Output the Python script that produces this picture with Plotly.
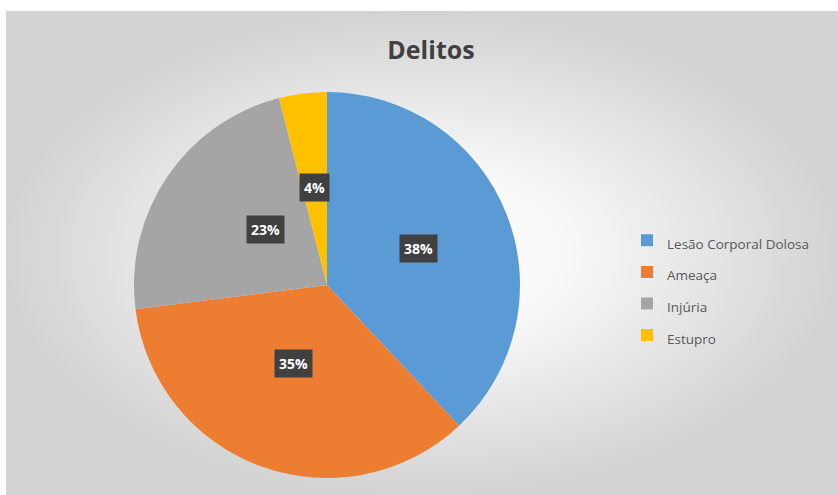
import math
import plotly.graph_objects as go

# ---- data ----
categories = ["Lesão Corporal Dolosa", "Ameaça", "Injúria", "Estupro"]
values = [38, 35, 23, 4]
colors = ["#5B9BD5", "#ED7D31", "#A5A5A5", "#FFC000"]
title_text = "Delitos"

W, H = 838, 495
# pie geometry (pixels)
cx, cy, R = 327, 285, 193
dom_x = [(cx - R) / W, (cx + R) / W]
dom_y = [(H - cy - R) / H, (H - cy + R) / H]

legend_labels = ["<span style='font-size:13.5px'>%s</span>" % c for c in categories]

fig = go.Figure()

# background radial gradient for chart area
fig.add_trace(go.Scatter(
    x=[0, 1, 1, 0, 0], y=[0, 0, 1, 1, 0],
    mode="lines", fill="toself", line=dict(width=0),
    fillgradient=dict(type="radial",
                      colorscale=[[0, "#ffffff"], [0.35, "#f8f8f8"], [1, "#d3d3d3"]]),
    hoverinfo="skip", showlegend=False,
))

fig.add_trace(go.Pie(
    labels=legend_labels,
    values=values,
    sort=False,
    direction="clockwise",
    rotation=0,
    marker=dict(colors=colors, line=dict(width=0)),
    textinfo="none",
    domain=dict(x=dom_x, y=dom_y),
    hovertemplate="%{label}: %{percent}<extra></extra>",
))

# percentage labels in dark boxes, placed along each slice's mid angle
total = sum(values)
annotations = []
cum = 0
for v in values:
    mid = (cum + v / 2) / total * 2 * math.pi
    cum += v
    px = cx + 0.51 * R * math.sin(mid)
    py = cy - 0.51 * R * math.cos(mid)
    annotations.append(dict(
        x=px / W, y=(H - py) / H, xref="paper", yref="paper",
        text="<b>%d%%</b>" % round(v / total * 100),
        showarrow=False,
        font=dict(family="Open Sans", size=14, color="#ffffff"),
        bgcolor="#404040", borderpad=4,
    ))

fig.update_layout(
    width=W, height=H,
    margin=dict(l=0, r=0, t=0, b=0),
    paper_bgcolor="#ffffff",
    plot_bgcolor="rgba(0,0,0,0)",
    xaxis=dict(domain=[6 / W, 1], range=[0, 1], visible=False, fixedrange=True),
    yaxis=dict(domain=[0, (H - 11) / H], range=[0, 1], visible=False, fixedrange=True),
    title=dict(text="<b>" + title_text + "</b>", x=431 / W, xanchor="center",
               y=(H - 50) / H, yanchor="middle",
               font=dict(family="Open Sans", size=25, color="#404040")),
    legend=dict(x=627 / W, xanchor="left", y=(H - 288) / H, yanchor="middle",
                font=dict(family="Open Sans", size=22, color="#595959"),
                bgcolor="rgba(0,0,0,0)"),
    annotations=annotations,
)

fig.write_html("out.html")
